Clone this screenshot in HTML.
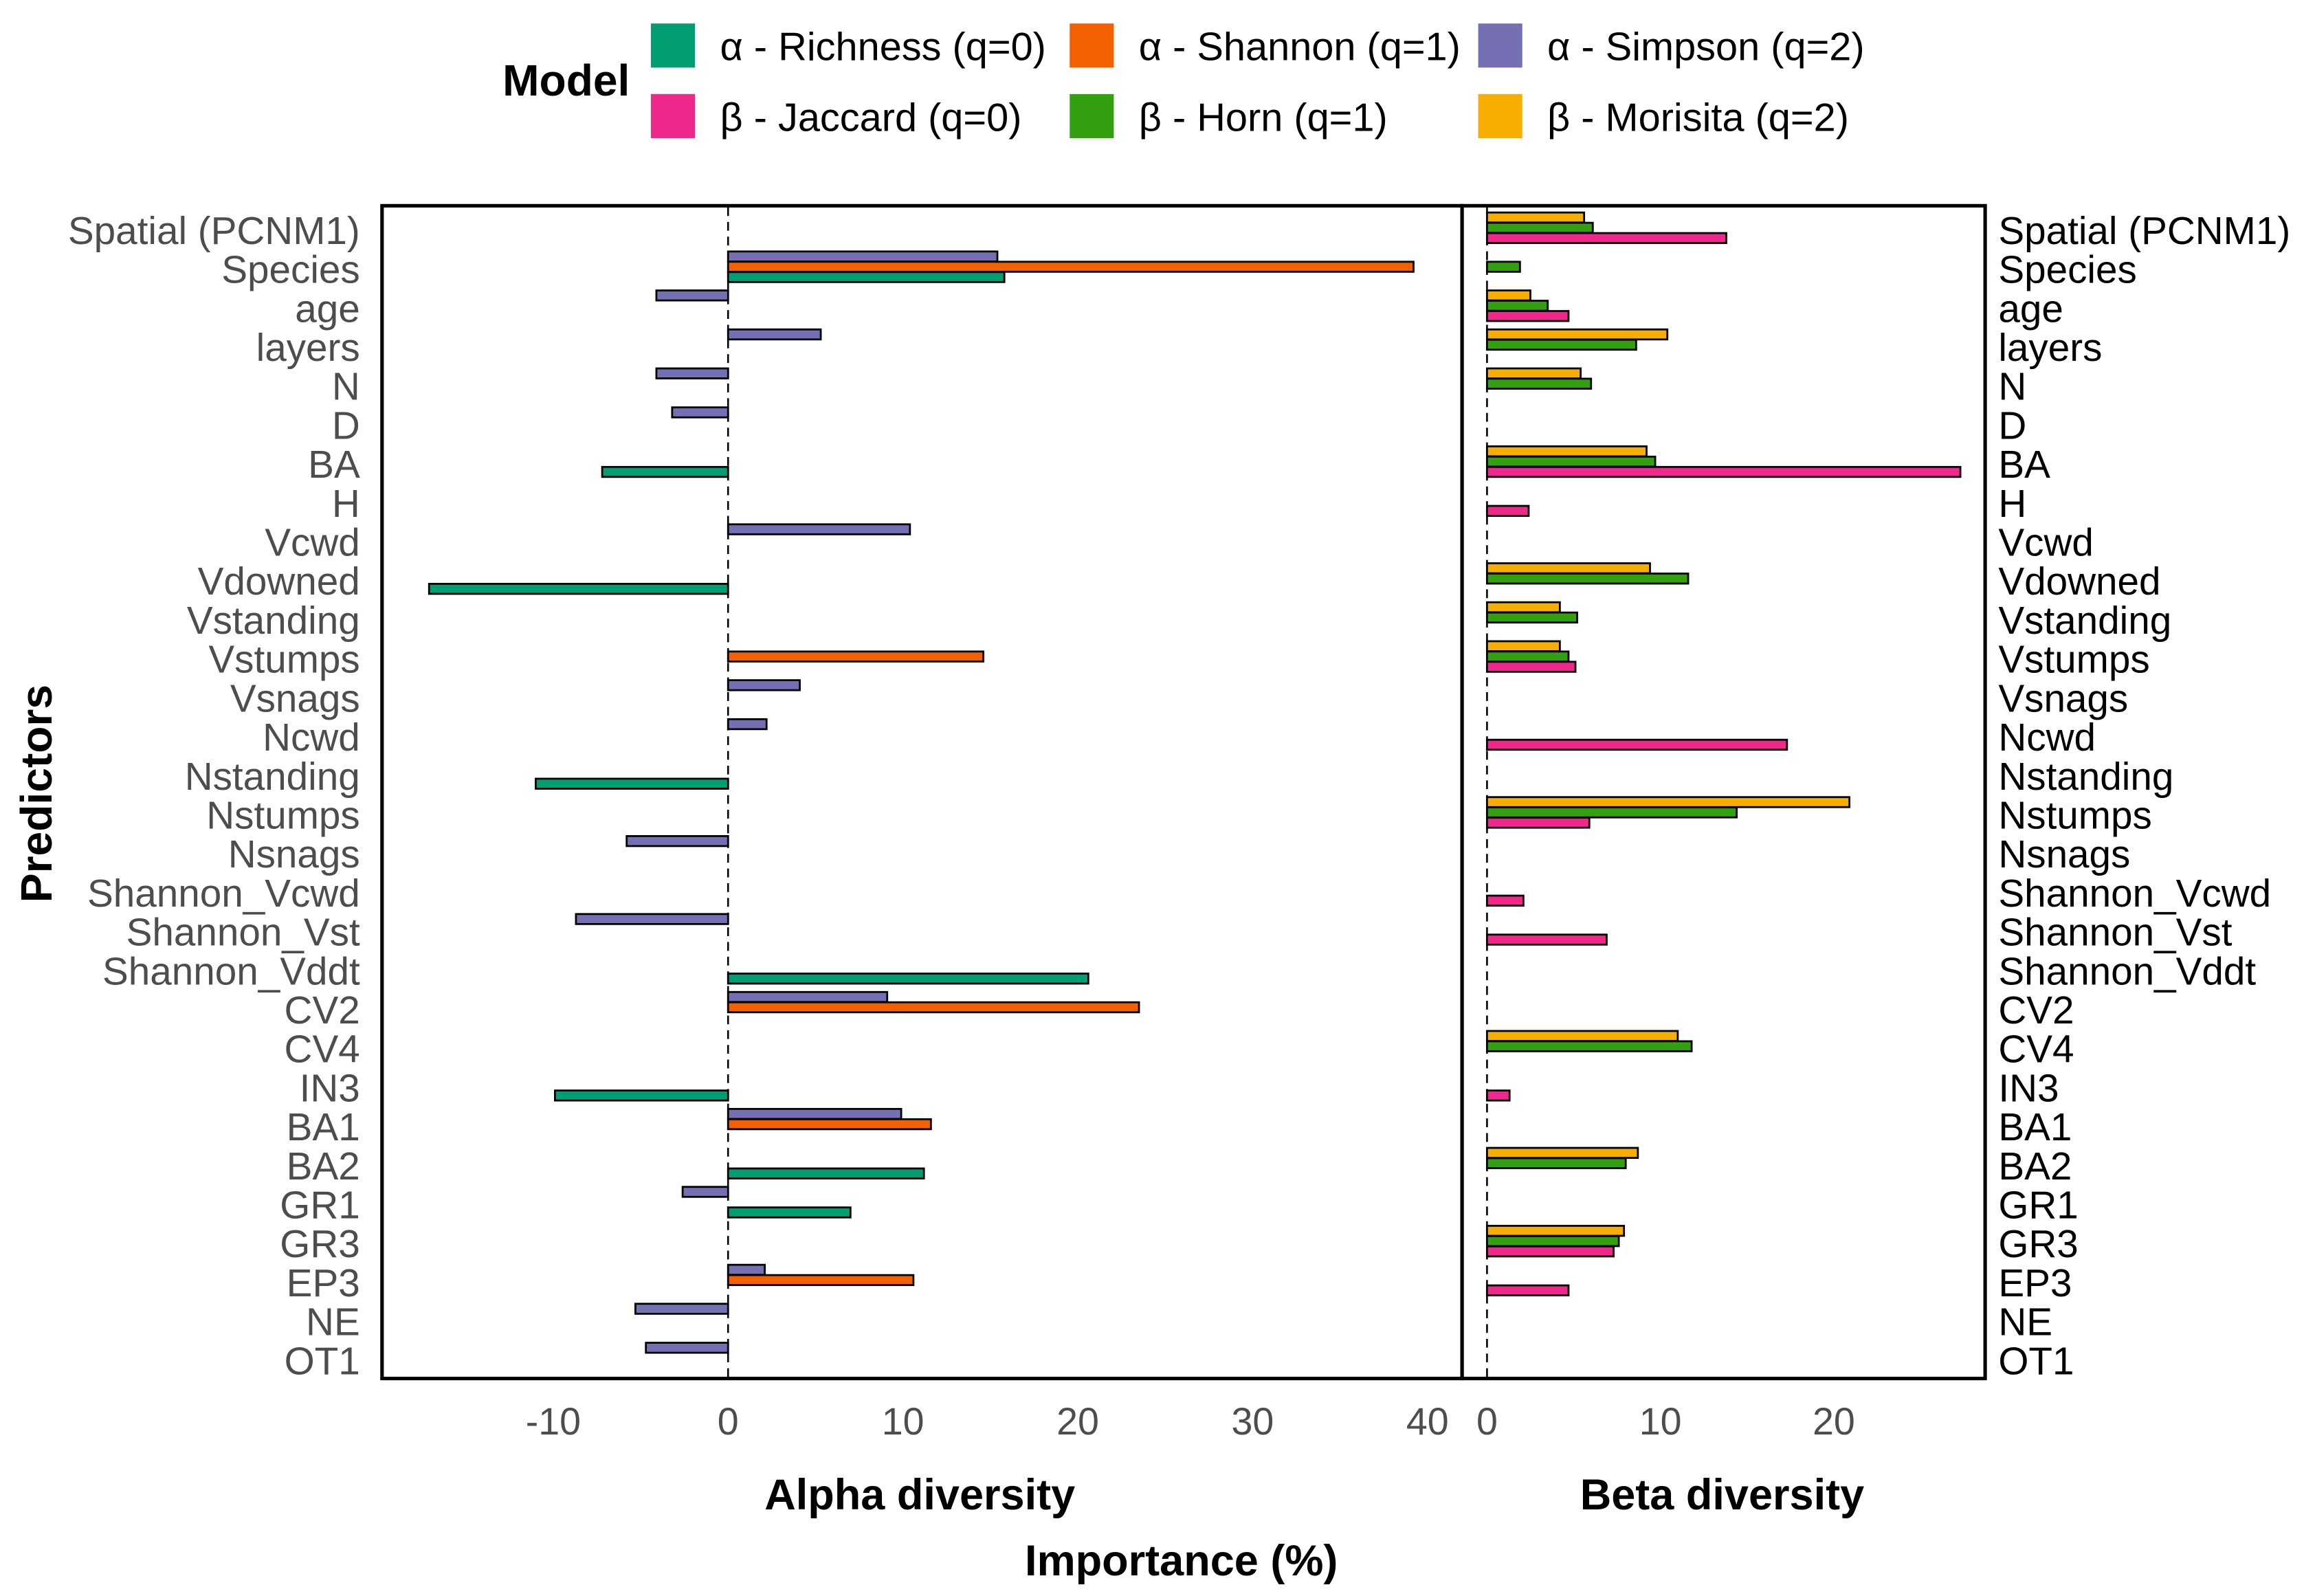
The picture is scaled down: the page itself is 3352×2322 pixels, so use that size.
<!DOCTYPE html>
<html><head><meta charset="utf-8"><style>
html,body{margin:0;padding:0;background:#fff;}
svg{display:block;font-family:"Liberation Sans",sans-serif;}
</style></head><body>
<svg id="chart" width="3352" height="2322" viewBox="0 0 1568 1086" preserveAspectRatio="none" xmlns="http://www.w3.org/2000/svg">
<g id="legend"></g>
<g id="alpha"></g>
<g id="beta"></g>
<g id="labels"></g>
</svg>
<script>
const predictors = ["Spatial (PCNM1)","Species","age","layers","N","D","BA","H","Vcwd","Vdowned","Vstanding","Vstumps","Vsnags","Ncwd","Nstanding","Nstumps","Nsnags","Shannon_Vcwd","Shannon_Vst","Shannon_Vddt","CV2","CV4","IN3","BA1","BA2","GR1","GR3","EP3","NE","OT1"];
// alpha series (0 = absent)
const richness = [0,15.8,0,0,0,0,-7.2,0,0,-17.1,0,0,0,0,-11.0,0,0,0,0,20.6,0,0,-9.9,0,11.2,7.0,0,0,0,0];
const shannon  = [0,39.2,0,0,0,0,0,0,0,0,0,14.6,0,0,0,0,0,0,0,0,23.5,0,0,11.6,0,0,0,10.6,0,0];
const simpson  = [0,15.4,-4.1,5.3,-4.1,-3.2,0,0,10.4,0,0,0,4.1,2.2,0,0,-5.8,0,-8.7,0,9.1,0,0,9.9,0,-2.6,0,2.1,-5.3,-4.7];
// beta series
const jaccard  = [13.8,0,4.7,0,0,0,27.3,2.4,0,0,0,5.1,0,17.3,0,5.9,0,2.1,6.9,0,0,0,1.3,0,0,0,7.3,4.7,0,0];
const horn     = [6.1,1.9,3.5,8.6,6.0,0,9.7,0,0,11.6,5.2,4.7,0,0,0,14.4,0,0,0,0,0,11.8,0,0,8.0,0,7.6,0,0,0];
const morisita = [5.6,0,2.5,10.4,5.4,0,9.2,0,0,9.4,4.2,4.2,0,0,0,20.9,0,0,0,0,0,11.0,0,0,8.7,0,7.9,0,0,0];
const alphaTicks = [-10,0,10,20,30,40];
const betaTicks = [0,10,20];
const legendLabels = ["α - Richness (q=0)","α - Shannon (q=1)","α - Simpson (q=2)","β - Jaccard (q=0)","β - Horn (q=1)","β - Morisita (q=2)"];

const NS="http://www.w3.org/2000/svg";
function mk(tag,attrs,parent,text){const e=document.createElementNS(NS,tag);for(const k in attrs)e.setAttribute(k,attrs[k]);if(text!==undefined)e.textContent=text;parent.appendChild(e);return e;}
const ax = v => 495.5 + v*11.9;
const bx = v => 1012 + v*11.8;
const rowY = i => 157 + i*26.52;
const colors = {richness:"#029E73",shannon:"#F26000",simpson:"#7570B3",jaccard:"#F0288C",horn:"#33A00F",morisita:"#F6AE00"};
const BH = 6.8;

const A = document.getElementById('alpha');
const B = document.getElementById('beta');
const L = document.getElementById('labels');
const G = document.getElementById('legend');

function drawSeries(parent, arr, xf, off, color, name){
  arr.forEach((v,i)=>{
    if(v===0) return;
    const x0=xf(0), x1=xf(v);
    const r=mk('rect',{x:Math.min(x0,x1),y:rowY(i)+off-BH/2,width:Math.abs(x1-x0),height:BH,fill:color,stroke:"#000","stroke-width":1.3},parent);
    
    
  });
}
mk('line',{x1:ax(0),x2:ax(0),y1:141,y2:937,stroke:"#000","stroke-width":1.2,"stroke-dasharray":"6,4",},A);
mk('line',{x1:bx(0),x2:bx(0),y1:141,y2:937,stroke:"#000","stroke-width":1.2,"stroke-dasharray":"6,4",},B);
drawSeries(A,simpson,ax,-9,colors.simpson,'simpson');
drawSeries(A,shannon,ax,-2,colors.shannon,'shannon');
drawSeries(A,richness,ax,5,colors.richness,'richness');
drawSeries(B,morisita,bx,-9,colors.morisita,'morisita');
drawSeries(B,horn,bx,-2,colors.horn,'horn');
drawSeries(B,jaccard,bx,5,colors.jaccard,'jaccard');
mk('rect',{x:260,y:140,width:735,height:798,fill:"none",stroke:"#000","stroke-width":2.4,},A);
mk('rect',{x:995,y:140,width:356,height:798,fill:"none",stroke:"#000","stroke-width":2.4,},B);
alphaTicks.forEach(t=>{const e=mk('text',{x:ax(t),y:976,"text-anchor":"middle","font-size":26,fill:"#4d4d4d"},L,String(t));

});
betaTicks.forEach(t=>{const e=mk('text',{x:bx(t),y:976,"text-anchor":"middle","font-size":26,fill:"#4d4d4d"},L,String(t));

});
predictors.forEach((p,i)=>{
  const a=mk('text',{x:245,y:rowY(i)+9,"text-anchor":"end","font-size":26.5,fill:"#4d4d4d"},L,p);
  
  
  const b=mk('text',{x:1360,y:rowY(i)+9,"text-anchor":"start","font-size":26.5,fill:"#000"},L,p);
  
  
});
mk('text',{x:626,y:1027,"text-anchor":"middle","font-size":29.5,"font-weight":"bold",},L,"Alpha diversity");
mk('text',{x:1172,y:1027,"text-anchor":"middle","font-size":29.5,"font-weight":"bold",},L,"Beta diversity");
mk('text',{x:804,y:1072,"text-anchor":"middle","font-size":29.5,"font-weight":"bold",},L,"Importance (%)");
mk('text',{x:0,y:0,"text-anchor":"middle","font-size":30,"font-weight":"bold",transform:"translate(35,540) rotate(-90)",},L,"Predictors");
mk('text',{x:342,y:65,"font-size":30,"font-weight":"bold",},G,"Model");
const legCols=[colors.richness,colors.shannon,colors.simpson,colors.jaccard,colors.horn,colors.morisita];
const sx=[443,728,1006];
legendLabels.forEach((lab,i)=>{
  const c=i%3, r=Math.floor(i/3);
  const y=16+r*48;
  const s=mk('rect',{x:sx[c],y:y,width:30,height:30,fill:legCols[i]},G);
  
  
  const t=mk('text',{x:sx[c]+47,y:y+25,"font-size":27,fill:"#000"},G,lab);
  
  
});
</script>
</body></html>
